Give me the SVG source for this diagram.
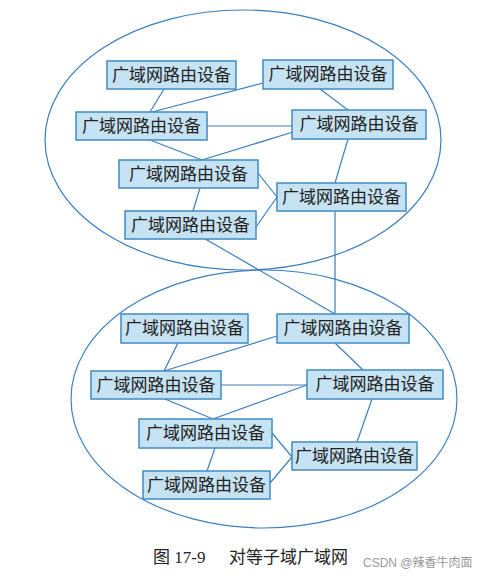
<svg xmlns="http://www.w3.org/2000/svg" width="499" height="579" viewBox="0 0 499 579">
<style>
.e{fill:none;stroke:#3a7fbf;stroke-width:1.2}
.c line{stroke:#3a7fbf;stroke-width:1.2}
.b rect{fill:#c6e3f3;stroke:#3f8cc4;stroke-width:1.5}
.b text{font-family:"Liberation Serif","Noto Sans CJK SC",serif;font-size:17px;fill:#222;text-anchor:middle;dominant-baseline:central}
.cap{font-family:"Liberation Serif","Noto Sans CJK SC",serif;font-size:17px;fill:#222}
.wm{font-family:"Liberation Sans","Noto Sans CJK SC",sans-serif;font-size:12px;fill:#999}
</style>
<rect width="499" height="579" fill="#fff"/>
<ellipse id="domain1" class="e" cx="243" cy="140" rx="198" ry="130"/>
<ellipse id="domain2" class="e" cx="264" cy="399" rx="193" ry="129"/>
<g id="connectors" class="c">
<line x1="164" y1="89" x2="150" y2="112"/>
<line x1="263" y1="83" x2="152" y2="112"/>
<line x1="320" y1="89" x2="348" y2="110"/>
<line x1="207" y1="126" x2="292" y2="126"/>
<line x1="150" y1="140" x2="202" y2="160"/>
<line x1="293" y1="132" x2="202" y2="160"/>
<line x1="348" y1="139" x2="335" y2="183"/>
<line x1="258" y1="173" x2="277" y2="197"/>
<line x1="200" y1="188" x2="193" y2="211"/>
<line x1="256" y1="227" x2="277" y2="197"/>
<line x1="195" y1="233" x2="335" y2="314"/>
<line x1="335" y1="211" x2="335" y2="314"/>
<line x1="178" y1="343" x2="164" y2="371"/>
<line x1="277" y1="336" x2="164" y2="371"/>
<line x1="335" y1="343" x2="363" y2="370"/>
<line x1="221" y1="385" x2="307" y2="385"/>
<line x1="165" y1="399" x2="213" y2="419"/>
<line x1="307" y1="385" x2="213" y2="419"/>
<line x1="372" y1="399" x2="357" y2="442"/>
<line x1="272" y1="433" x2="292" y2="457"/>
<line x1="215" y1="448" x2="207" y2="471"/>
<line x1="270" y1="483" x2="292" y2="457"/>
</g>
<g id="n1" class="b"><rect x="107" y="61" width="129" height="28"/><text x="171.5" y="75">广域网路由设备</text></g>
<g id="n2" class="b"><rect x="263" y="60" width="130" height="29"/><text x="328" y="74.5">广域网路由设备</text></g>
<g id="n3" class="b"><rect x="76" y="112" width="131" height="28"/><text x="141.5" y="126">广域网路由设备</text></g>
<g id="n4" class="b"><rect x="292" y="110" width="134" height="29"/><text x="359" y="124.5">广域网路由设备</text></g>
<g id="n5" class="b"><rect x="119" y="160" width="139" height="28"/><text x="188.5" y="174">广域网路由设备</text></g>
<g id="n6" class="b"><rect x="277" y="183" width="129" height="28"/><text x="341.5" y="197">广域网路由设备</text></g>
<g id="n7" class="b"><rect x="125" y="211" width="131" height="28"/><text x="190.5" y="225">广域网路由设备</text></g>
<g id="n8" class="b"><rect x="121" y="314" width="127" height="29"/><text x="184.5" y="328.5">广域网路由设备</text></g>
<g id="n9" class="b"><rect x="277" y="314" width="132" height="29"/><text x="343" y="328.5">广域网路由设备</text></g>
<g id="n10" class="b"><rect x="91" y="371" width="130" height="28"/><text x="156" y="385">广域网路由设备</text></g>
<g id="n11" class="b"><rect x="307" y="370" width="136" height="29"/><text x="375" y="384.5">广域网路由设备</text></g>
<g id="n12" class="b"><rect x="139" y="419" width="133" height="29"/><text x="205.5" y="433.5">广域网路由设备</text></g>
<g id="n13" class="b"><rect x="292" y="442" width="125" height="28"/><text x="354.5" y="456">广域网路由设备</text></g>
<g id="n14" class="b"><rect x="143" y="471" width="127" height="28"/><text x="206.5" y="485">广域网路由设备</text></g>
<text class="cap" x="153" y="563">图 17-9</text>
<text class="cap" x="229" y="563">对等子域广域网</text>
<text class="wm" x="363" y="567">CSDN @辣香牛肉面</text>
</svg>
